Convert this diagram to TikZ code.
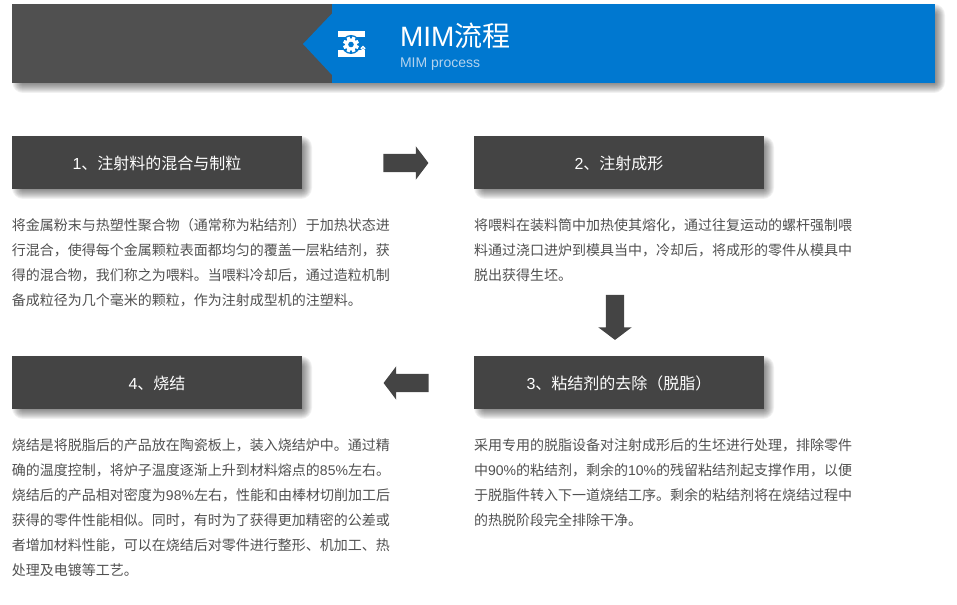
\documentclass[tikz,border=0pt]{standalone}
\usepackage{fontspec}
\setmainfont{Liberation Sans}
\newfontfamily\cjk{Noto Sans CJK SC}
\newfontfamily\latn{Liberation Sans}
\usetikzlibrary{shapes.arrows}

\definecolor{headgray}{HTML}{505050}
\definecolor{headblue}{HTML}{0078D0}
\definecolor{boxgray}{HTML}{444444}
\definecolor{bodygray}{HTML}{505050}
\definecolor{subblue}{HTML}{B4D3EE}

\tikzset{every picture/.style={line width=0.75pt}}
\tikzset{
  stepbox/.style={fill=boxgray,text=white,minimum width=217.5pt,minimum height=39.75pt,inner sep=0pt,text height=11.5pt,text depth=1pt,font=\fontsize{12}{14}\selectfont\cjk},
  bodytext/.style={anchor=north west,inner sep=0pt,align=left,text=bodygray,font=\fontsize{10.5}{18.75}\selectfont\cjk},
  flowarrow/.style={single arrow,fill=boxgray,minimum height=33.75pt,minimum width=24pt,inner xsep=0pt,inner ysep=6.4pt,single arrow head extend=5.8pt,single arrow tip angle=106,single arrow head indent=0pt}
}

% blurred shadow of a box: left, top, right, bottom
\newcommand{\softshadow}[4]{
  \foreach \d [evaluate=\d as \r using {(\d+6)*0.75}] in {-5,-4,...,5}
    \fill [black,opacity=0.055,rounded corners=\r pt] (#1+5-\d,#2+5-\d) rectangle (#3+5+\d,#4+5+\d);
}

\begin{document}
\begin{tikzpicture}[x=0.75pt,y=0.75pt,yscale=-1,xscale=1]
  \useasboundingbox (0,0) rectangle (957,605);

  %Shape: Header shadow
  \softshadow{12}{4}{935}{83}
  %Shape: Header
  \fill [headgray] (12,4) rectangle (332,83);
  \fill [headblue] (332,4) rectangle (935,83);
  \fill [headblue] (332,13.5) -- (303,44) -- (332,75) -- cycle;

  %Shape: Icon bars
  \fill [white] (338,31) rectangle (365,37.5);
  \fill [white] (338,50.5) rectangle (365,57);
  \fill [headblue] (351,44.5) circle [radius=9.5];
  %Shape: Icon gear
  \foreach \a in {0,45,...,315}
    \fill [white,rotate around={\a+22.5:(351,44.5)}] (349.5,36.7) rectangle (352.5,52.3);
  \fill [white] (351,44.5) circle [radius=6];
  \fill [headblue] (351,44.5) circle [radius=2.8];
  \draw [white,line width=0.9pt] (363,48.3) circle [radius=1.8];

  % Text Node
  \draw (399.5,35.5) node [anchor=west][inner sep=0pt] (title) {\fontsize{21}{24}\selectfont\color{white}{\latn MIM}{\cjk 流程}};
  % Text Node
  \draw (399.5,64.5) node [anchor=west][inner sep=0pt] (subtitle) {\fontsize{10.5}{12}\selectfont\color{subblue}MIM process};

  %Shape: Box shadows
  \softshadow{12}{136}{302}{189}
  \softshadow{474}{136}{764}{189}
  \softshadow{474}{356}{764}{409}
  \softshadow{12}{356}{302}{409}

  %Shape: Step boxes
  \node [stepbox] (mixing) at (157,162.5) {{\latn 1}、注射料的混合与制粒};
  \node [stepbox] (molding) at (619,162.5) {{\latn 2}、注射成形};
  \node [stepbox] (debinding) at (619,382.5) {{\latn 3}、粘结剂的去除（脱脂）};
  \node [stepbox] (sintering) at (157,382.5) {{\latn 4}、烧结};

  %Shape: Block arrows
  \node [flowarrow] (arrowright) at (402.5,163) {};
  \node [flowarrow,rotate=-90] (arrowdown) at (615,314) {};
  \node [flowarrow,rotate=180] (arrowleft) at (409.5,383) {};

  % Text Node
  \draw (11.5,218) node [bodytext] (mixingtext) {将金属粉末与热塑性聚合物（通常称为粘结剂）于加热状态进\\行混合，使得每个金属颗粒表面都均匀的覆盖一层粘结剂，获\\得的混合物，我们称之为喂料。当喂料冷却后，通过造粒机制\\备成粒径为几个毫米的颗粒，作为注射成型机的注塑料。};
  % Text Node
  \draw (473.5,218) node [bodytext] (moldingtext) {将喂料在装料筒中加热使其熔化，通过往复运动的螺杆强制喂\\料通过浇口进炉到模具当中，冷却后，将成形的零件从模具中\\脱出获得生坯。};
  % Text Node
  \draw (473.5,438) node [bodytext] (debindingtext) {采用专用的脱脂设备对注射成形后的生坯进行处理，排除零件\\中{\latn 90\%}的粘结剂，剩余的{\latn 10\%}的残留粘结剂起支撑作用，以便\\于脱脂件转入下一道烧结工序。剩余的粘结剂将在烧结过程中\\的热脱阶段完全排除干净。};
  % Text Node
  \draw (11.5,438) node [bodytext] (sinteringtext) {烧结是将脱脂后的产品放在陶瓷板上，装入烧结炉中。通过精\\确的温度控制，将炉子温度逐渐上升到材料熔点的{\latn 85\%}左右。\\烧结后的产品相对密度为{\latn 98\%}左右，性能和由棒材切削加工后\\获得的零件性能相似。同时，有时为了获得更加精密的公差或\\者增加材料性能，可以在烧结后对零件进行整形、机加工、热\\处理及电镀等工艺。};
\end{tikzpicture}
\end{document}
